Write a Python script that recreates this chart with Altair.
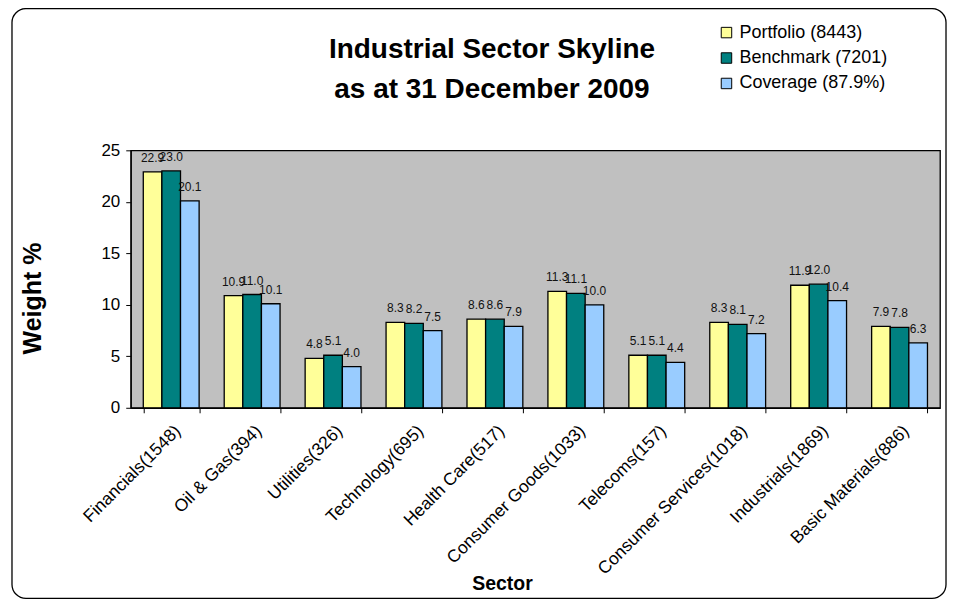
import altair as alt
import pandas as pd

sectors = ["Financials(1548)", "Oil & Gas(394)", "Utilities(326)", "Technology(695)",
           "Health Care(517)", "Consumer Goods(1033)", "Telecoms(157)",
           "Consumer Services(1018)", "Industrials(1869)", "Basic Materials(886)"]
portfolio = [22.9, 10.9, 4.8, 8.3, 8.6, 11.3, 5.1, 8.3, 11.9, 7.9]
benchmark = [23.0, 11.0, 5.1, 8.2, 8.6, 11.1, 5.1, 8.1, 12.0, 7.8]
coverage = [20.1, 10.1, 4.0, 7.5, 7.9, 10.0, 4.4, 7.2, 10.4, 6.3]
series = ["Portfolio (8443)", "Benchmark (7201)", "Coverage (87.9%)"]
colors = ["#FFFF99", "#008080", "#99CCFF"]
title_lines = ["Industrial Sector Skyline", "as at 31 December 2009"]

rows = []
for s, vals in zip(series, [portfolio, benchmark, coverage]):
    for sec, v in zip(sectors, vals):
        rows.append({"sector": sec, "series": s, "value": v})
df = pd.DataFrame(rows)

FONT = "Liberation Sans"

x = alt.X("sector:N", sort=sectors,
          scale=alt.Scale(paddingInner=0.31, paddingOuter=0.155),
          axis=alt.Axis(title="Sector", labelAngle=-45, labelFontSize=17.5,
                        labelColor="black", tickBand="extent", tickSize=5,
                        labelPadding=9, labelLimit=400,
                        titleFontSize=19.5, titleFontWeight="bold",
                        titleX=372, titleY=167, titleBaseline="top",
                        titleColor="black"))
xo = alt.XOffset("series:N", sort=series,
                 scale=alt.Scale(paddingInner=0, paddingOuter=0))
y = alt.Y("value:Q", scale=alt.Scale(domain=[0, 25]),
          axis=alt.Axis(title="Weight %", values=[0, 5, 10, 15, 20, 25],
                        labelFontSize=17, labelColor="black", grid=False,
                        tickSize=5, labelPadding=6,
                        titleFontSize=25, titleFontWeight="bold",
                        titleColor="black", titlePadding=56, titleY=148))

base = alt.Chart(df)
bars = base.mark_bar(stroke="black", strokeWidth=1.3).encode(
    x=x, xOffset=xo, y=y,
    color=alt.Color("series:N", sort=series,
                    scale=alt.Scale(domain=series, range=colors),
                    legend=alt.Legend(title=None, orient="none", legendX=588,
                                      legendY=-127, labelFontSize=18,
                                      labelColor="black", symbolType="square",
                                      symbolSize=110, symbolStrokeColor="black",
                                      symbolStrokeWidth=1, symbolOpacity=1,
                                      rowPadding=7.5, labelOffset=4)),
)
labels = base.mark_text(baseline="bottom", dy=-7, fontSize=12, color="#111111",
                        font=FONT).encode(
    x=x, xOffset=xo, y=y, text=alt.Text("value:Q", format=".1f"))

tdf = pd.DataFrame({"t": title_lines})
title1 = alt.Chart(tdf.iloc[[0]]).mark_text(
    fontSize=28, fontWeight="bold", font=FONT, color="black", baseline="middle"
).encode(text="t:N", x=alt.value(362), y=alt.value(-101))
title2 = alt.Chart(tdf.iloc[[1]]).mark_text(
    fontSize=28, fontWeight="bold", font=FONT, color="black", baseline="middle"
).encode(text="t:N", x=alt.value(362), y=alt.value(-60))

border = alt.Chart(alt.Data(values=[{"a": 1}])).mark_rect(
    filled=False, stroke="black", strokeWidth=1.3, cornerRadius=14
).encode(x=alt.value(-119), x2=alt.value(817), y=alt.value(-142), y2=alt.value(449))

chart = alt.layer(bars, labels, title1, title2, border).properties(
    width=811, height=258,
    background="white",
    autosize=alt.AutoSizeParams(type="none"),
    padding={"left": 123, "top": 142, "right": 8, "bottom": 192},
).configure_view(fill="#C0C0C0", stroke="black", strokeWidth=1.3
).configure_axis(labelFont=FONT, titleFont=FONT, domainColor="black",
                 tickColor="black", domainWidth=1.2
).configure_legend(labelFont=FONT)

chart.save("out.html", embed_options={"renderer": "svg", "actions": False})
